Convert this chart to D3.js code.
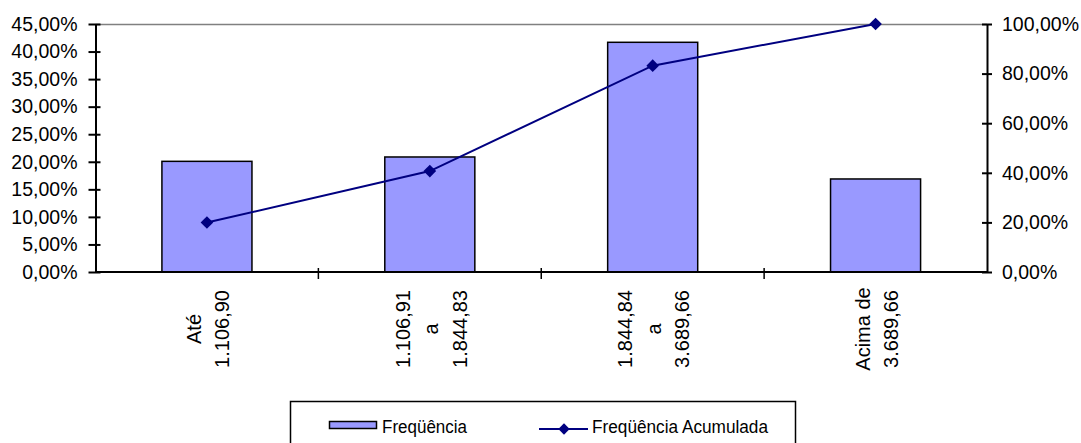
<!DOCTYPE html>
<html>
<head>
<meta charset="utf-8">
<script src="https://cdn.jsdelivr.net/npm/d3@7"></script>
<style>
  html, body { margin: 0; padding: 0; background: #ffffff; }
  svg { display: block; font-family: Arial, "Liberation Sans", sans-serif; }
</style>
</head>
<body>
<svg id="chart" width="1081" height="443"></svg>
<script>
// ---- data ----
const categoryLines = [
  ["Até", "1.106,90"],
  ["1.106,91", "a", "1.844,83"],
  ["1.844,84", "a", "3.689,66"],
  ["Acima de", "3.689,66"]
];
const categories = categoryLines.map(l => l.join(" "));
const frequencia = [0.2008, 0.2087, 0.4168, 0.1688];
const acumulada = [0.1995, 0.4070, 0.8320, 1.0000];
const leftTicks = [0, 0.05, 0.10, 0.15, 0.20, 0.25, 0.30, 0.35, 0.40, 0.45];
const rightTicks = [0, 0.2, 0.4, 0.6, 0.8, 1.0];
const legendLabels = ["Freqüência", "Freqüência Acumulada"];

// ---- layout ----
const plot = { left: 95.5, right: 987, top: 24, bottom: 272 };
const svg = d3.select("#chart");

const locale = d3.formatLocale({ decimal: ",", thousands: ".", grouping: [3], currency: ["R$", ""] });
const pct = locale.format(".2%");

const x = d3.scaleBand().domain(categories).range([plot.left, plot.right])
  .paddingInner(0.596).paddingOuter(0.298);
const yL = d3.scaleLinear().domain([0, 0.45]).range([plot.bottom, plot.top]);
const yR = d3.scaleLinear().domain([0, 1]).range([plot.bottom, plot.top]);

// top border (gray)
svg.append("line")
  .attr("x1", plot.left).attr("x2", plot.right)
  .attr("y1", plot.top + 0.5).attr("y2", plot.top + 0.5)
  .attr("stroke", "#808080").attr("stroke-width", 1.5);

// bars
svg.append("g").selectAll("rect").data(frequencia).join("rect")
  .attr("x", (d, i) => x(categories[i]))
  .attr("width", x.bandwidth())
  .attr("y", d => yL(d))
  .attr("height", d => plot.bottom - yL(d))
  .attr("fill", "#9999FF")
  .attr("stroke", "#000000")
  .attr("stroke-width", 1.5);

// left axis
const gL = svg.append("g").attr("transform", `translate(${plot.left},0)`)
  .call(d3.axisLeft(yL).tickValues(leftTicks).tickFormat(pct).tickSize(0).tickPadding(18));
gL.select(".domain").attr("stroke", "#000").attr("stroke-width", 2);
gL.selectAll(".tick line").attr("x1", -7).attr("x2", 5).attr("stroke", "#000").attr("stroke-width", 2);
gL.selectAll(".tick text").attr("font-size", 19.5).attr("fill", "#000")
  .attr("font-family", "Arial, 'Liberation Sans', sans-serif");

// right axis
const gR = svg.append("g").attr("transform", `translate(${plot.right},0)`)
  .call(d3.axisRight(yR).tickValues(rightTicks).tickFormat(pct).tickSize(0).tickPadding(15));
gR.select(".domain").attr("stroke", "#000").attr("stroke-width", 2);
gR.selectAll(".tick line").attr("x1", -5).attr("x2", 5).attr("stroke", "#000").attr("stroke-width", 2);
gR.selectAll(".tick text").attr("font-size", 19.5).attr("fill", "#000")
  .attr("font-family", "Arial, 'Liberation Sans', sans-serif");

// bottom axis
const step = x.step();
const gB = svg.append("g").attr("transform", `translate(0,${plot.bottom})`);
gB.append("line").attr("x1", plot.left).attr("x2", plot.right)
  .attr("y1", 0).attr("y2", 0).attr("stroke", "#000").attr("stroke-width", 2);
gB.selectAll("line.tk").data(d3.range(1, categories.length)).join("line")
  .attr("class", "tk")
  .attr("x1", i => plot.left + i * step).attr("x2", i => plot.left + i * step)
  .attr("y1", -4).attr("y2", 7).attr("stroke", "#000").attr("stroke-width", 1.5);

// category labels (rotated, multi-line, centered)
const lineGap = 28.5;
const labelCenterY = 329;
categoryLines.forEach((lines, i) => {
  const cx = x(categories[i]) + x.bandwidth() / 2 + 1;
  const t = svg.append("text")
    .attr("transform", `translate(${cx},${labelCenterY}) rotate(-90)`)
    .attr("text-anchor", "middle")
    .attr("font-size", 20)
    .attr("fill", "#000");
  const n = lines.length;
  lines.forEach((ln, j) => {
    t.append("tspan").attr("x", 0)
      .attr("y", (j - (n - 1) / 2) * lineGap + 7.2)
      .text(ln);
  });
});

// cumulative line
const cxOf = i => x(categories[i]) + x.bandwidth() / 2;
svg.append("path")
  .datum(acumulada)
  .attr("d", d3.line().x((d, i) => cxOf(i)).y(d => yR(d)))
  .attr("fill", "none").attr("stroke", "#000080").attr("stroke-width", 2);
svg.append("g").selectAll("path").data(acumulada).join("path")
  .attr("transform", (d, i) => `translate(${cxOf(i)},${yR(d)}) rotate(45)`)
  .attr("d", d3.symbol().type(d3.symbolSquare).size(80)())
  .attr("fill", "#000080");

// legend
const lg = svg.append("g");
lg.append("rect").attr("x", 290.5).attr("y", 401.5).attr("width", 505).attr("height", 60)
  .attr("fill", "#fff").attr("stroke", "#000").attr("stroke-width", 1.5);
lg.append("rect").attr("x", 329.5).attr("y", 421.5).attr("width", 47).attr("height", 7)
  .attr("fill", "#9999FF").attr("stroke", "#000").attr("stroke-width", 1.5);
lg.append("text").attr("x", 382).attr("y", 432.5).attr("font-size", 17.5).attr("fill", "#000")
  .attr("textLength", 85).attr("lengthAdjust", "spacingAndGlyphs")
  .text(legendLabels[0]);
lg.append("line").attr("x1", 539).attr("x2", 588).attr("y1", 429).attr("y2", 429)
  .attr("stroke", "#000080").attr("stroke-width", 2);
lg.append("path").attr("transform", "translate(564,429) rotate(45)")
  .attr("d", d3.symbol().type(d3.symbolSquare).size(64)())
  .attr("fill", "#000080");
lg.append("text").attr("x", 592).attr("y", 432.5).attr("font-size", 17.5).attr("fill", "#000")
  .attr("textLength", 176).attr("lengthAdjust", "spacingAndGlyphs")
  .text(legendLabels[1]);
</script>
</body>
</html>
